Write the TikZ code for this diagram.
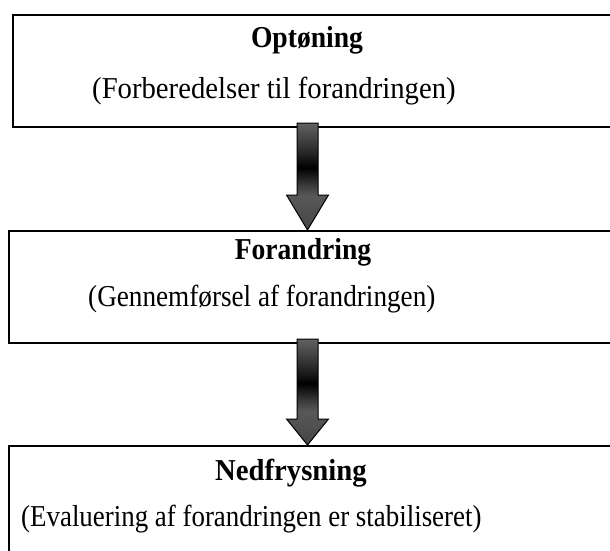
\documentclass[tikz,border=0pt]{standalone}
\usepackage{fontspec}
\setmainfont{Liberation Serif}
\usetikzlibrary{calc}
\definecolor{agtip}{HTML}{454545}
\definecolor{aghead}{HTML}{585858}
\definecolor{aglow}{HTML}{3a3a3a}
\definecolor{agmid}{HTML}{2a2a2a}
\definecolor{agtop}{HTML}{626262}
\definecolor{arrowshadowc}{HTML}{A8A8A8}
\pgfdeclareverticalshading{arrowshade}{100bp}{color(0bp)=(agtip); color(25bp)=(agtip); color(41bp)=(aghead); color(46bp)=(aglow); color(54bp)=(black); color(62bp)=(agmid); color(75bp)=(agtop); color(100bp)=(agtop)}
\newcommand\bigarrow[3]{%
  \path let \p1=(#1.south), \p2=(#2.north) in
    coordinate (#1-top) at (307.5pt,\y1+4pt)
    coordinate (#1-tip) at (307.5pt,\y2+1pt);
  \fill[arrowshadowc, shift={(3pt,-3pt)}] let \p1=(#1-top), \p2=(#1-tip) in
    (\x1-10.5pt,\y1) -- (\x1+10.5pt,\y1) -- (\x1+10.5pt,\y2+#3) -- (\x1+21pt,\y2+#3)
    -- (\x2,\y2) -- (\x1-21pt,\y2+#3) -- (\x1-10.5pt,\y2+#3) -- cycle;
  \shadedraw[shading=arrowshade, draw=black, line width=1pt, line join=miter] let \p1=(#1-top), \p2=(#1-tip) in
    (\x1-10.5pt,\y1) -- (\x1+10.5pt,\y1) -- (\x1+10.5pt,\y2+#3) -- (\x1+21pt,\y2+#3)
    -- (\x2,\y2) -- (\x1-21pt,\y2+#3) -- (\x1-10.5pt,\y2+#3) -- cycle;
}
\newcommand\stretchtext[2]{\scalebox{#1}[1.1]{#2}}
\begin{document}
\begin{tikzpicture}[x=1pt,y=-1pt,
  box/.style={draw, line width=2.5pt, inner sep=0pt, outer sep=0pt},
  head/.style={font=\bfseries\fontsize{27.6}{30}\selectfont, anchor=base, inner sep=0pt},
  sub/.style={font=\fontsize{27.6}{30}\selectfont, anchor=base west, inner sep=0pt}]
\useasboundingbox (0,0) rectangle (610,551);
\clip (0,0) rectangle (610,551);
\node[box, minimum width=617pt, minimum height=112pt] (b1) at (321.5,71) {};
\node[box, minimum width=621pt, minimum height=112pt] (b2) at (319.5,287) {};
\node[box, minimum width=621pt, minimum height=174pt] (b3) at (319.5,533) {};
\node[head] (h1) at (307,48) {\stretchtext{1.0}{Optøning}};
\node[sub] (s1) at (92,98) {\stretchtext{1.04}{(Forberedelser til forandringen)}};
\node[head] (h2) at (303,259) {\stretchtext{1.0}{Forandring}};
\node[sub] (s2) at (88,306) {\stretchtext{0.985}{(Gennemførsel af forandringen)}};
\node[head] (h3) at (291,480) {\stretchtext{1.04}{Nedfrysning}};
\node[sub] (s3) at (21,526) {\stretchtext{0.975}{(Evaluering af forandringen er stabiliseret)}};
\bigarrow{b1}{b2}{35pt}
\bigarrow{b2}{b3}{26pt}
\end{tikzpicture}
\end{document}
